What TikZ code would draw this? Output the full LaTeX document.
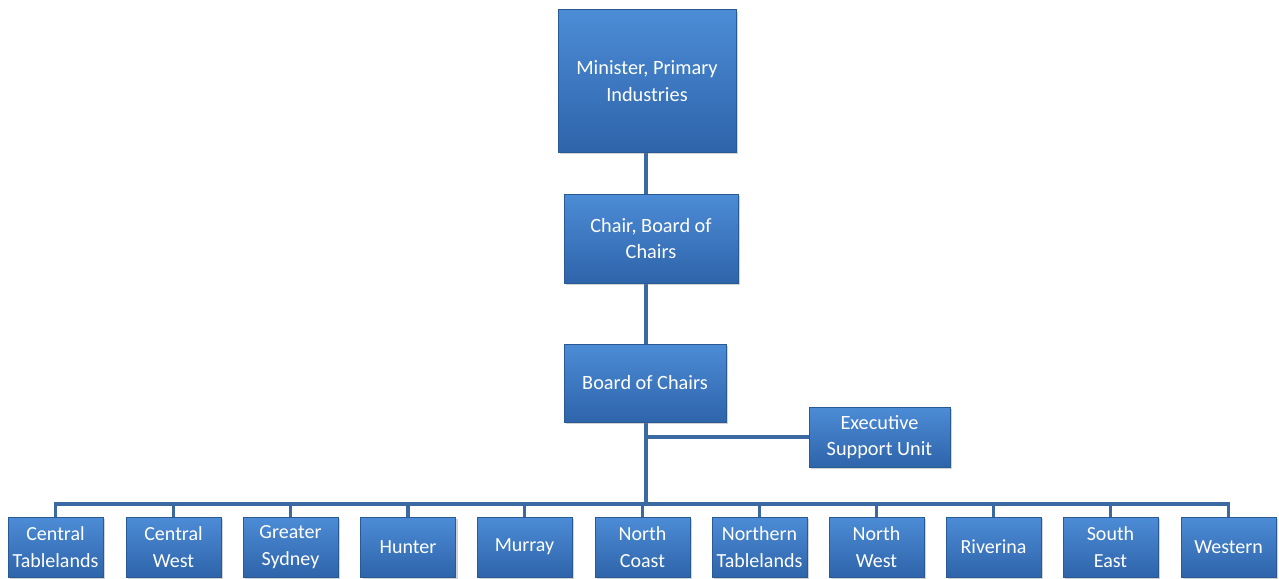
\documentclass[tikz,border=0pt]{standalone}
\usepackage{fontspec}
\setmainfont{Carlito}
\usetikzlibrary{shadows,backgrounds}
\definecolor{boxtop}{HTML}{4C8CD6}
\definecolor{boxbot}{HTML}{2E64AA}
\definecolor{boxedge}{HTML}{2A5A96}
\definecolor{linec}{HTML}{3B6AA3}
\tikzset{
  orgbox/.style={rectangle, top color=boxtop, bottom color=boxbot, draw=boxedge, line width=1pt,
    text=white, align=center, inner sep=2pt, font=\fontsize{20.3}{26.5}\selectfont,
    drop shadow={shadow xshift=2pt, shadow yshift=-2pt, opacity=0.35}},
  region/.style={orgbox, minimum width=95pt, minimum height=60pt, inner sep=1pt, font=\fontsize{20}{26.5}\selectfont},
  conn/.style={draw=linec, line width=3.5pt}
}
\begin{document}
\begin{tikzpicture}[x=1pt,y=-1pt]
\useasboundingbox (0,0) rectangle (1279,578);
\node[orgbox, minimum width=178pt, minimum height=142pt] (mini) at (647,81) {Minister, Primary\\Industries};
\node[orgbox, minimum width=174pt, minimum height=89pt] (chair) at (651,238.5) {Chair, Board of\\Chairs};
\node[orgbox, minimum width=162pt, minimum height=78pt] (board) at (645,383) {Board of Chairs};
\node[orgbox, minimum width=141pt, minimum height=60pt] (exec) at (879.5,437) {Executive\\Support Unit};
\coordinate (spine) at (646,504);
\node[region] (r1) at (55.5,547) {Central\\Tablelands};
\node[region] (r2) at (173.5,547) {Central\\West};
\node[region] (r3) at (290.5,547) {Greater\\Sydney};
\node[region] (r4) at (408,547) {Hunter};
\node[region] (r5) at (524.5,547) {Murray};
\node[region] (r6) at (642.5,547) {North\\Coast};
\node[region] (r7) at (759.5,547) {Northern\\Tablelands};
\node[region] (r8) at (876.5,547) {North\\West};
\node[region] (r9) at (993.5,547) {Riverina};
\node[region] (r10) at (1110.5,547) {South\\East};
\node[region] (r11) at (1228.5,547) {Western};
\begin{scope}[on background layer]
\draw[conn] (mini.south -| spine) -- (chair.north -| spine);
\draw[conn] (chair.south -| spine) -- (board.north -| spine);
\draw[conn] (board.south -| spine) -- (spine);
\draw[conn] (spine |- exec.west) -- (exec.west);
\draw[conn, line cap=rect] (r1 |- spine) -- (r11 |- spine);
\foreach \i in {1,...,11} {\draw[conn] (r\i.north) -- (r\i |- spine);}
\end{scope}
\end{tikzpicture}
\end{document}
